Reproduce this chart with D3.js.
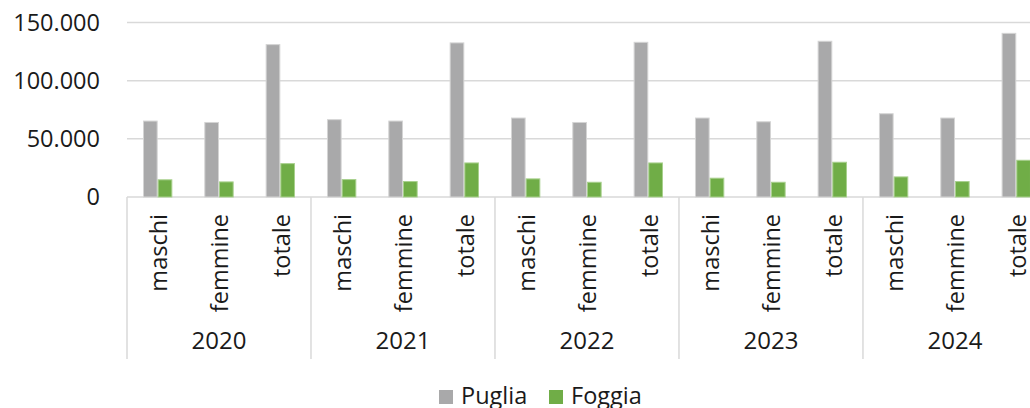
<!DOCTYPE html>
<html>
<head>
	<meta charset="utf-8">
	<title>Puglia / Foggia</title>
	<style>
	body{margin:0;background:#fff;overflow:hidden;}
	svg{display:block;font-family:"Open Sans",sans-serif;}
	.grid line{stroke:#d9d9d9;stroke-width:1.5;}
	.yLabel{font-size:23.5px;fill:#1a1a1a;text-anchor:end;}
	.catLabel{font-size:23.5px;fill:#1a1a1a;text-anchor:end;}
	.yearLabel{font-size:24px;fill:#1a1a1a;text-anchor:middle;}
	.legend text{font-size:23.5px;fill:#1a1a1a;}
	</style>
	<script src="https://d3js.org/d3.v7.min.js"></script>
</head>
<body>
	<svg id="chart" width="1030" height="408"></svg>

	<script>
	// dati
	var years   = ["2020","2021","2022","2023","2024"];
	var genders = ["maschi","femmine","totale"];
	var seriesNames = ["Puglia","Foggia"];
	var puglia = [65700,64500,131400, 66900,65700,132900, 68300,64500,133400, 68300,65100,134300, 72000,68300,141100];
	var foggia = [15200,13400,29100, 15400,13700,29700, 16000,13100,29700, 16600,13100,30300, 17700,13700,32000];
	var yTicks = [0,50000,100000,150000];

	var colors = {"Puglia":"#a9a9aa","Foggia":"#70ad47"};
	var borders = {"Puglia":"#d4d4d4","Foggia":"#a8d08d"};

	var plotLeft = 127, catW = 61.33, plotTop = 22.5, plotBottom = 197;
	var plotRight = plotLeft + catW * years.length * genders.length;

	// categorie: una per anno x genere
	var cats = [];
	years.forEach(function(yr){
		genders.forEach(function(g){ cats.push(yr + "|" + g); });
	});

	var x0 = d3.scaleBand().domain(cats).range([plotLeft, plotRight]);
	var gap = catW * 2.18 / 4.18;
	var x1 = d3.scaleBand().domain(seriesNames).range([gap/2, catW - gap/2]);
	var y = d3.scaleLinear().domain([0,150000]).range([plotBottom, plotTop]);

	var fmt = d3.formatLocale({decimal:",", thousands:".", grouping:[3], currency:["€",""]}).format(",");

	var svg = d3.select("#chart");

	// griglia
	svg.append("g").attr("class","grid")
		.selectAll("line").data(yTicks).enter().append("line")
		.attr("x1", plotLeft).attr("x2", plotRight)
		.attr("y1", function(d){ return y(d); })
		.attr("y2", function(d){ return y(d); });

	svg.append("g").selectAll("text").data(yTicks).enter().append("text")
		.attr("class","yLabel")
		.attr("x", 100)
		.attr("y", function(d){ return y(d); })
		.attr("dy", "0.35em")
		.text(function(d){ return fmt(d); });

	// barre
	var rows = cats.map(function(c,i){
		return [{s:"Puglia", c:c, v:puglia[i]}, {s:"Foggia", c:c, v:foggia[i]}];
	});

	svg.append("g").selectAll("g").data(rows).enter().append("g")
		.attr("transform", function(d){ return "translate(" + x0(d[0].c) + ",0)"; })
		.selectAll("rect").data(function(d){ return d; }).enter().append("rect")
		.attr("x", function(d){ return x1(d.s) + 0.5; })
		.attr("width", x1.bandwidth() - 1)
		.attr("y", function(d){ return y(d.v) + 0.5; })
		.attr("height", function(d){ return plotBottom - y(d.v) - 0.5; })
		.attr("fill", function(d){ return colors[d.s]; })
		.attr("stroke", function(d){ return borders[d.s]; })
		.attr("stroke-width", 1);

	// separatori degli anni
	var seps = years.map(function(yr){ return x0(yr + "|maschi"); });
	seps.push(plotRight);
	svg.append("g").selectAll("line").data(seps).enter().append("line")
		.attr("x1", function(d){ return d; }).attr("x2", function(d){ return d; })
		.attr("y1", plotBottom).attr("y2", 359)
		.attr("stroke", "#d9d9d9").attr("stroke-width", 1.5);

	// etichette categorie ruotate
	svg.append("g").selectAll("text").data(cats).enter().append("text")
		.attr("class","catLabel")
		.attr("transform", function(d){
			return "translate(" + (x0(d) + catW/2 + 1) + ",214) rotate(-90)";
		})
		.attr("dy", "0.35em")
		.text(function(d){ return d.split("|")[1]; });

	svg.append("g").selectAll("text").data(years).enter().append("text")
		.attr("class","yearLabel")
		.attr("x", function(d){ return x0(d + "|femmine") + catW/2; })
		.attr("y", 349)
		.text(function(d){ return d; });

	// legenda
	var legX = [439, 549];
	var leg = svg.append("g").attr("class","legend")
		.selectAll("g").data(seriesNames).enter().append("g")
		.attr("transform", function(d,i){ return "translate(" + legX[i] + ",390)"; });
	leg.append("rect").attr("width",14).attr("height",14)
		.attr("fill", function(d){ return colors[d]; });
	leg.append("text").attr("x",22).attr("y",14).text(function(d){ return d; });
	</script>
</body>
</html>
